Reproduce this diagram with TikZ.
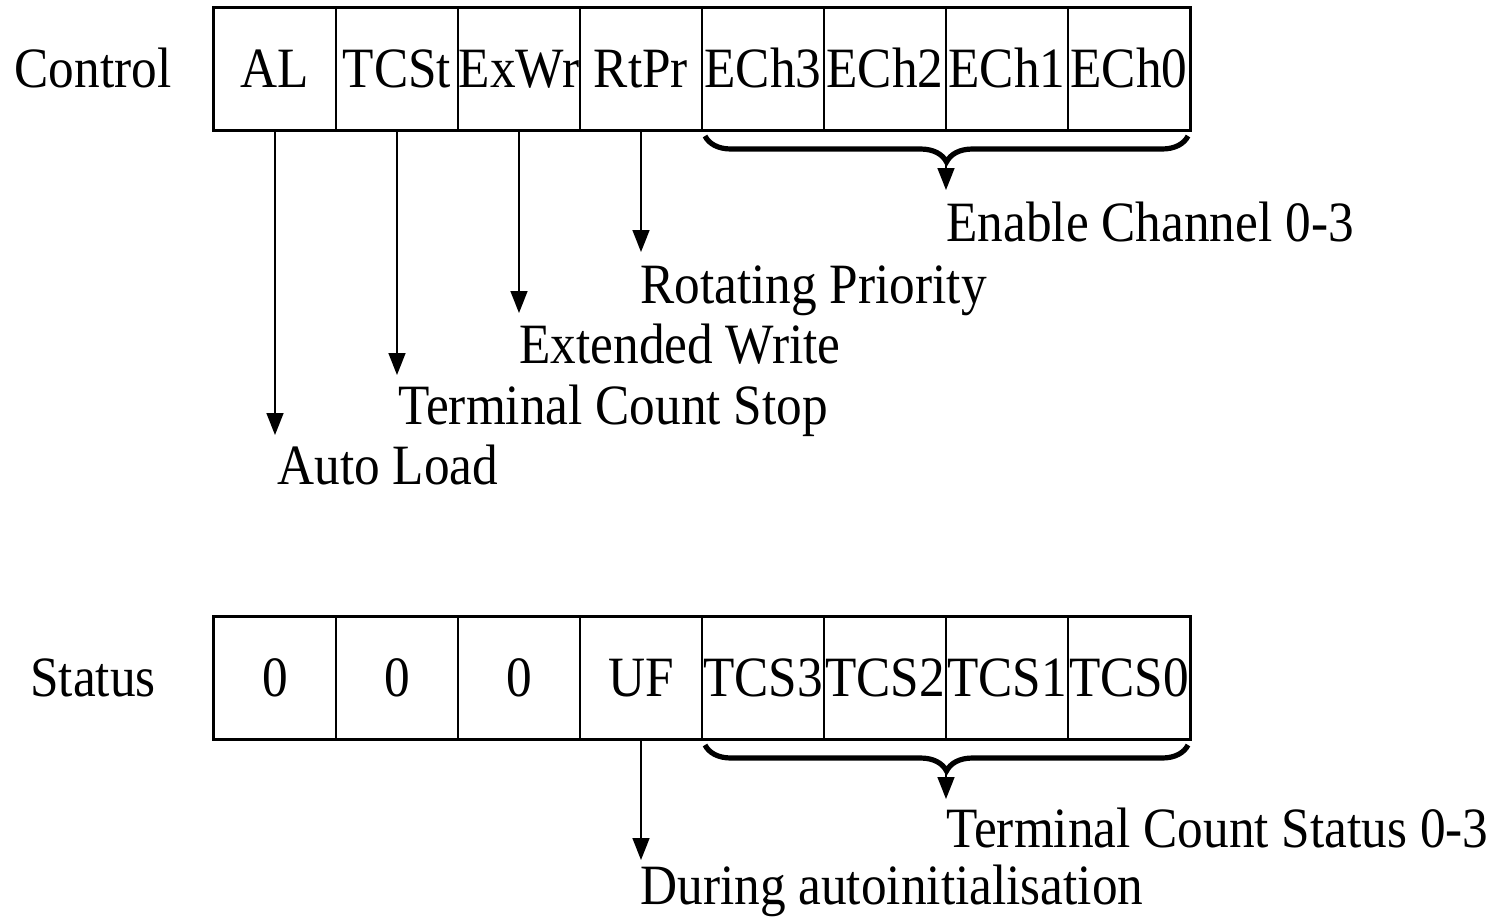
\documentclass[tikz,border=0pt]{standalone}
\usepackage{fontspec}
\setmainfont{Liberation Serif}[FakeStretch=0.9]
\usetikzlibrary{arrows.meta,decorations.pathreplacing}
\begin{document}
\begin{tikzpicture}[x=0.5pt,y=-0.5pt,
  txt/.style={font=\fontsize{28.5}{34}\selectfont, inner sep=0pt},
  cell/.style={txt, draw, line width=0.7pt, minimum width=61pt, minimum height=61pt,
    text height=18.9pt, text depth=0pt},
  rowlabel/.style={txt, text height=18.9pt, text depth=0pt},
  lbl/.style={txt, anchor=base west},
  arr/.style={-{Triangle[length=11pt,width=8.5pt]}, line width=0.8pt},
  frame/.style={line width=1.4pt},
  brc/.style={decorate, decoration={brace, mirror, amplitude=13pt}, line width=2.6pt}]
\useasboundingbox (0,0) rectangle (1493,917);
% row labels
\node[rowlabel] (ctl) at (93,69) {Control};
\node[rowlabel] (sts) at (93,678) {Status};
% control cells
\node[cell] (c1) at (275,69) {AL};
\node[cell] (c2) at (397,69) {TCSt};
\node[cell] (c3) at (519,69) {ExWr};
\node[cell] (c4) at (641,69) {RtPr};
\node[cell] (c5) at (763,69) {ECh3};
\node[cell] (c6) at (885,69) {ECh2};
\node[cell] (c7) at (1007,69) {ECh1};
\node[cell] (c8) at (1129,69) {ECh0};
\draw[frame] (c1.north west) rectangle (c8.south east);
% status cells
\node[cell] (s1) at (275,678) {0};
\node[cell] (s2) at (397,678) {0};
\node[cell] (s3) at (519,678) {0};
\node[cell] (s4) at (641,678) {UF};
\node[cell] (s5) at (763,678) {TCS3};
\node[cell] (s6) at (885,678) {TCS2};
\node[cell] (s7) at (1007,678) {TCS1};
\node[cell] (s8) at (1129,678) {TCS0};
\draw[frame] (s1.north west) rectangle (s8.south east);
% arrow end coordinates
\coordinate (t1) at (275,435);
\coordinate (t2) at (397,375);
\coordinate (t3) at (519,313);
\coordinate (t4) at (641,252);
\coordinate (bs1) at (705,136);
\coordinate (be1) at (1188,136);
\coordinate (bt1) at (946,162);
\coordinate (bx1) at (946,190);
\coordinate (u1) at (641,860);
\coordinate (bs2) at (705,745);
\coordinate (be2) at (1188,745);
\coordinate (bt2) at (946,771);
\coordinate (bx2) at (946,799);
% control connectors
\draw[arr] (c1.south) -- (t1);
\draw[arr] (c2.south) -- (t2);
\draw[arr] (c3.south) -- (t3);
\draw[arr] (c4.south) -- (t4);
\draw[brc] (bs1) -- (be1);
\draw[arr] (bt1) -- (bx1);
% status connectors
\draw[arr] (s4.south) -- (u1);
\draw[brc] (bs2) -- (be2);
\draw[arr] (bt2) -- (bx2);
% labels
\node[lbl] (l5) at (946,241) {Enable Channel 0-3};
\node[lbl] (l4) at (640,303) {Rotating Priority};
\node[lbl] (l3) at (519,363) {Extended Write};
\node[lbl] (l2) at (398,424) {Terminal Count Stop};
\node[lbl] (l1) at (277,484) {Auto Load};
\node[lbl] (l6) at (946,847) {Terminal Count Status 0-3};
\node[lbl] (l7) at (640,904) {During autoinitialisation};
\end{tikzpicture}
\end{document}
